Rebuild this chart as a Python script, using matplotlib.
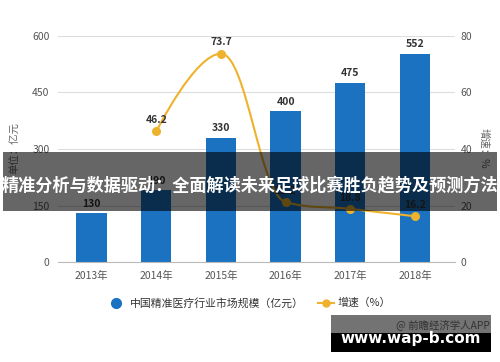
import matplotlib.pyplot as plt
import numpy as np
from matplotlib.path import Path
from matplotlib.patches import PathPatch, Rectangle
from matplotlib.lines import Line2D

plt.rcParams['font.family'] = ['Noto Sans CJK SC', 'DejaVu Sans']

years = ["2013年", "2014年", "2015年", "2016年", "2017年", "2018年"]
market = [130, 190, 330, 400, 475, 552]
growth_years = [1, 2, 3, 4, 5]
growth = [46.2, 73.7, 21.2, 18.8, 16.2]

bar_color = "#1a72c0"
line_color = "#eeb22c"


def spline_path(xs, ys, smoothing=1.5):
    # highcharts style spline control points
    n = len(xs)
    denom = smoothing + 1
    left = [(xs[i], ys[i]) for i in range(n)]
    right = [(xs[i], ys[i]) for i in range(n)]
    for i in range(1, n - 1):
        px, py = xs[i], ys[i]
        lx, ly = xs[i - 1], ys[i - 1]
        nx, ny = xs[i + 1], ys[i + 1]
        lcx = (smoothing * px + lx) / denom
        lcy = (smoothing * py + ly) / denom
        rcx = (smoothing * px + nx) / denom
        rcy = (smoothing * py + ny) / denom
        corr = (rcy - lcy) * (rcx - px) / (rcx - lcx) + py - rcy
        lcy += corr
        rcy += corr
        if lcy > ly and lcy > py:
            lcy = max(ly, py)
            rcy = 2 * py - lcy
        elif lcy < ly and lcy < py:
            lcy = min(ly, py)
            rcy = 2 * py - lcy
        if rcy > ny and rcy > py:
            rcy = max(ny, py)
            lcy = 2 * py - rcy
        elif rcy < ny and rcy < py:
            rcy = min(ny, py)
            lcy = 2 * py - rcy
        left[i] = (lcx, lcy)
        right[i] = (rcx, rcy)
    verts = [(xs[0], ys[0])]
    codes = [Path.MOVETO]
    for i in range(1, n):
        verts += [right[i - 1], left[i], (xs[i], ys[i])]
        codes += [Path.CURVE4] * 3
    return Path(verts, codes)


fig = plt.figure(figsize=(5, 3.62), dpi=100)
ax = fig.add_axes([0.116, 0.276, 0.794, 0.625])
ax2 = ax.twinx()

x = np.arange(len(years))
ax.bar(x, market, width=0.47, color=bar_color, zorder=2)
for xi, v in zip(x, market):
    ax.text(xi, v + 12, str(v), ha="center", va="bottom", fontsize=7.5,
            fontweight="bold", color="#333333")

ax.set_ylim(0, 600)
ax.set_yticks([0, 150, 300, 450, 600])
ax.set_xlim(-0.52, 5.62)
ax.set_xticks(x)
ax.set_xticklabels(years)
ax.grid(axis="y", color="#dddddd", linewidth=0.8, zorder=0)
for s in ["top", "right", "left"]:
    ax.spines[s].set_visible(False)
ax.spines["bottom"].set_color("#bbbbbb")
ax.tick_params(axis="both", length=0, labelsize=7.5, colors="#555555", pad=6)

ax2.set_ylim(0, 80)
ax2.set_yticks([0, 20, 40, 60, 80])
for s in ["top", "right", "left", "bottom"]:
    ax2.spines[s].set_visible(False)
ax2.tick_params(axis="y", length=0, labelsize=7.5, colors="#555555", pad=4)

ax2.add_patch(PathPatch(spline_path(growth_years, growth), facecolor="none",
                        edgecolor=line_color, linewidth=1.5, zorder=3))
ax2.scatter(growth_years, growth, s=30, color=line_color, zorder=4)
for xi, v in zip(growth_years, growth):
    ax2.text(xi, v + 2.2, str(v), ha="center", va="bottom", fontsize=7.5,
             fontweight="bold", color="#333333")

fig.text(0.03, 1 - 148 / 362, "单位：亿元", rotation=90, ha="center",
         va="center", fontsize=7.5, color="#666666")
fig.text(0.968, 1 - 148 / 362, "增速：%", rotation=-90, ha="center",
         va="center", fontsize=7.5, color="#666666")

# legend
ly = 1 - 303 / 362
fig.lines.append(Line2D([0.232], [ly], marker="o", markersize=7,
                        color=bar_color, transform=fig.transFigure))
fig.text(0.26, ly, "中国精准医疗行业市场规模（亿元）", ha="left",
         va="center", fontsize=7.8, color="#333333")
fig.lines.append(Line2D([0.636, 0.668], [ly] * 2, color=line_color,
                        linewidth=1.5, transform=fig.transFigure))
fig.lines.append(Line2D([0.652], [ly], marker="o", markersize=5,
                        color=line_color, transform=fig.transFigure))
fig.text(0.676, ly, "增速（%）", ha="left", va="center",
         fontsize=7.8, color="#333333")

# overlay band with title
fig.patches.append(Rectangle((0.006, 1 - 211 / 362), 0.988, 59 / 362,
                             transform=fig.transFigure, facecolor="black",
                             alpha=0.6, zorder=5))
fig.text(0.5, 1 - 185 / 362, "精准分析与数据驱动：全面解读未来足球比赛胜负趋势及预测方法",
         ha="center", va="center", fontsize=12.3, fontweight="bold",
         color="white", zorder=6)

# bottom-right source boxes
fig.patches.append(Rectangle((331 / 500, 1 - 333 / 362), 160 / 500, 18 / 362,
                             transform=fig.transFigure, facecolor="black",
                             alpha=0.55, zorder=5))
fig.text(490 / 500, 1 - 325 / 362, "@ 前瞻经济学人APP", ha="right",
         va="center", fontsize=7.5, color="#333333", zorder=6)
fig.patches.append(Rectangle((331 / 500, 1 - 352 / 362), 160 / 500, 19 / 362,
                             transform=fig.transFigure, facecolor="black",
                             zorder=5))
fig.text(411 / 500, 1 - 338 / 362, "www.wap-b.com", ha="center", va="center",
         fontsize=11, fontweight="bold", color="white", zorder=7,
         family="DejaVu Sans")

fig.savefig("out.png", dpi=100)
